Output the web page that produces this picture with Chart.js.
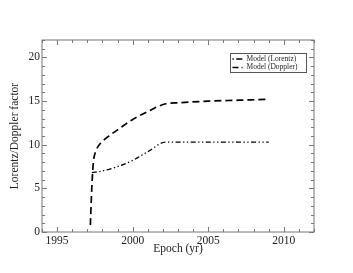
<!DOCTYPE html>
<html>
<head>
<meta charset="utf-8">
<script src="https://cdn.jsdelivr.net/npm/chart.js@4/dist/chart.umd.min.js"></script>
<style>
  html, body { margin: 0; padding: 0; background: #fff; }
  #wrap { width: 353px; height: 273px; }
</style>
</head>
<body>
<div id="wrap"><canvas id="chart" width="353" height="273"></canvas></div>
<script>
// values
const dopplerYears  = [1997.2, 1997.3, 1997.4, 1997.55, 1997.75, 1998.0, 1998.5, 1999.0, 2000.0, 2001.0, 2002.2, 2003.0, 2005.0, 2007.0, 2009.0];
const dopplerValues = [0.8, 5.2, 8.0, 9.2, 9.9, 10.4, 11.1, 11.7, 12.9, 13.8, 14.7, 14.8, 15.0, 15.1, 15.2];
const lorentzYears  = [1997.3, 1998.0, 1999.0, 2000.0, 2001.0, 2002.2, 2005.0, 2009.0];
const lorentzValues = [6.8, 7.0, 7.5, 8.2, 9.2, 10.3, 10.3, 10.3];

const xTicks = [1995, 2000, 2005, 2010];
const yTicks = [0, 5, 10, 15, 20];
const xRange = [1994, 2012];
const yRange = [0, 22];

const serif = '"Liberation Serif", "DejaVu Serif", serif';
const frameColor = '#777';

function pairs(xs, ys){ return xs.map((x, i) => ({x: x, y: ys[i]})); }

// frame with inward major/minor ticks on all four sides
const framePlugin = {
  id: 'frame',
  afterDraw(chart){
    const {ctx, chartArea: a, scales: {x, y}} = chart;
    ctx.save();
    ctx.strokeStyle = frameColor;
    ctx.lineWidth = 1;
    ctx.strokeRect(a.left, a.top, a.right - a.left, a.bottom - a.top);
    ctx.beginPath();
    for (let v = Math.ceil(xRange[0]); v <= xRange[1]; v++) {
      const px = Math.round(x.getPixelForValue(v)) + 0.5;
      const len = v % 5 === 0 ? 5 : 3;
      ctx.moveTo(px, a.bottom); ctx.lineTo(px, a.bottom - len);
      ctx.moveTo(px, a.top); ctx.lineTo(px, a.top + len);
    }
    for (let v = yRange[0]; v <= yRange[1]; v++) {
      const py = Math.round(y.getPixelForValue(v)) + 0.5;
      const len = v % 5 === 0 ? 5 : 3;
      ctx.moveTo(a.left, py); ctx.lineTo(a.left + len, py);
      ctx.moveTo(a.right, py); ctx.lineTo(a.right - len, py);
    }
    ctx.stroke();
    ctx.restore();
  }
};

// boxed legend inside the plot, top right
const legendPlugin = {
  id: 'boxLegend',
  afterDraw(chart){
    const ctx = chart.ctx;
    const box = {x: 230.5, y: 53.5, w: 76, h: 19};
    ctx.save();
    ctx.fillStyle = '#fff';
    ctx.fillRect(box.x, box.y, box.w, box.h);
    ctx.strokeStyle = '#555';
    ctx.lineWidth = 1;
    ctx.strokeRect(box.x, box.y, box.w, box.h);
    ctx.font = '7.5px ' + serif;
    ctx.textBaseline = 'middle';
    chart.data.datasets.forEach((ds, i) => {
      const cy = box.y + 5.5 + i * 8.5;
      ctx.strokeStyle = '#000';
      ctx.lineWidth = ds.borderWidth;
      ctx.setLineDash(ds.legendDash);
      ctx.beginPath();
      ctx.moveTo(box.x + 2, cy); ctx.lineTo(box.x + 12, cy);
      ctx.stroke();
      ctx.setLineDash([]);
      ctx.fillStyle = '#222';
      ctx.fillText(ds.label, box.x + 16, cy);
    });
    ctx.restore();
  }
};

new Chart(document.getElementById('chart').getContext('2d'), {
  type: 'line',
  data: {
    datasets: [
      {label: 'Model (Lorentz)', data: pairs(lorentzYears, lorentzValues),
       borderColor: '#000', borderWidth: 1.3, borderDash: [5, 2.5, 1.3, 2.5, 1.3, 2.5],
       legendDash: [1.3, 2.5, 6, 10], pointRadius: 0, fill: false, cubicInterpolationMode: 'monotone'},
      {label: 'Model (Doppler)', data: pairs(dopplerYears, dopplerValues),
       borderColor: '#000', borderWidth: 1.7, borderDash: [7, 4],
       legendDash: [6, 3, 1.5, 10], pointRadius: 0, fill: false, cubicInterpolationMode: 'monotone'}
    ]
  },
  options: {
    responsive: false,
    animation: false,
    layout: {padding: {left: 0, top: 40, right: 39, bottom: 0}},
    plugins: {legend: {display: false}, tooltip: {enabled: false}},
    scales: {
      x: {
        type: 'linear', min: xRange[0], max: xRange[1],
        afterBuildTicks: s => { s.ticks = xTicks.map(v => ({value: v})); },
        afterFit: s => { s.height = 41; },
        grid: {display: false, drawTicks: false}, border: {display: false},
        ticks: {color: '#222', font: {family: serif, size: 11.5}, padding: 2, maxRotation: 0,
                callback: v => String(v)},
        title: {display: true, text: 'Epoch (yr)', color: '#222', font: {family: serif, size: 11.5}, padding: {top: 0, bottom: 17}}
      },
      y: {
        type: 'linear', min: yRange[0], max: yRange[1],
        afterBuildTicks: s => { s.ticks = yTicks.map(v => ({value: v})); },
        afterFit: s => { s.width = 42; },
        grid: {display: false, drawTicks: false}, border: {display: false},
        ticks: {color: '#222', font: {family: serif, size: 11.5}, padding: 2},
        title: {display: true, text: 'Lorentz/Doppler factor', color: '#222', font: {family: serif, size: 11.5}, padding: {top: 8, bottom: 0}}
      }
    }
  },
  plugins: [framePlugin, legendPlugin]
});
</script>
</body>
</html>
